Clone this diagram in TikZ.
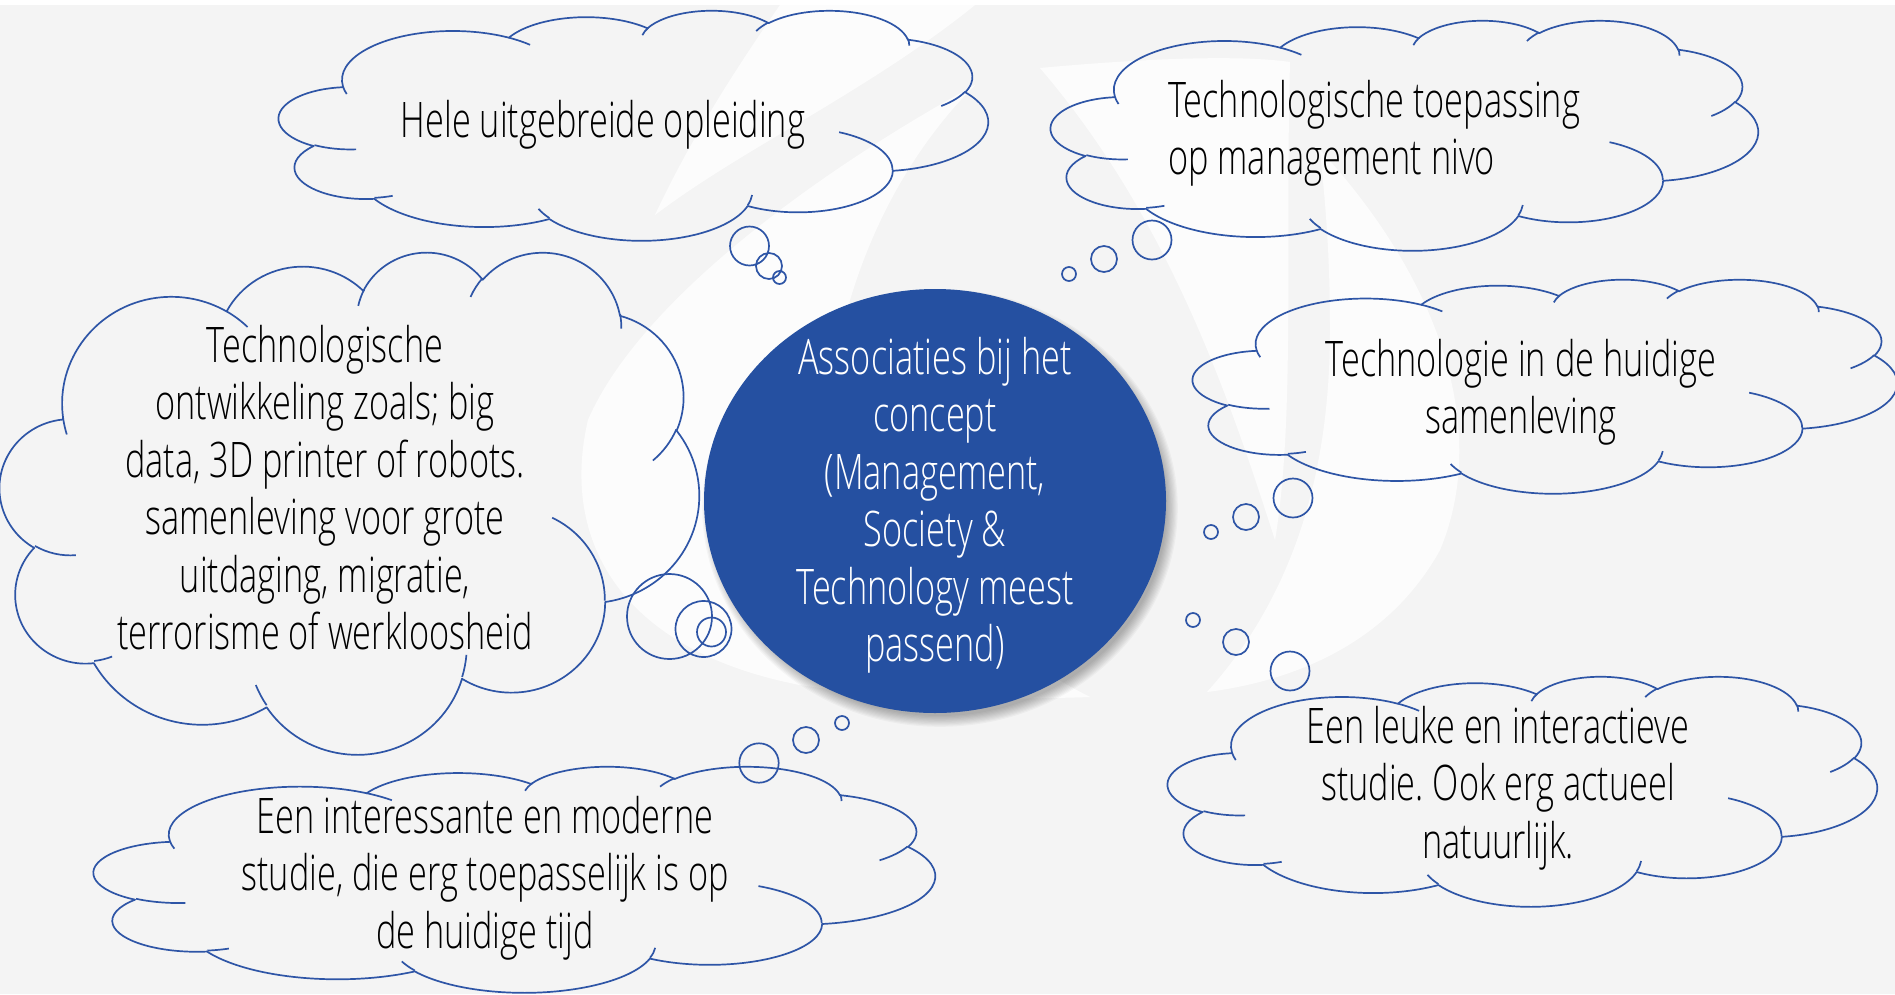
\documentclass[tikz,border=0pt]{standalone}
\usepackage{fontspec}
\setmainfont{Open Sans}[FakeStretch=0.7, UprightFont=* Light]
\frenchspacing
\usetikzlibrary{shapes.geometric}
\definecolor{bgcol}{HTML}{F4F4F4}
\definecolor{cloudblue}{HTML}{2E55A6}
\definecolor{ellblue}{HTML}{2550A1}
% OOXML visual angle -> TikZ parametric angle (y axis flipped)
\newcommand\visang[3]{(-((#3)+Mod(atan2((#1)*sin(#3),(#2)*cos(#3))-(#3)+180,360)-180))}
\newcommand\ooarc[4]{arc[x radius=#1, y radius=#2, start angle={\visang{#1}{#2}{#3}}, end angle={\visang{#1}{#2}{#4}}]}
\newcommand\cloudfont{\fontsize{49}{57.5}\selectfont}
\newcommand\tcen[1]{\begin{tabular}[t]{@{}c@{}}#1\end{tabular}}
\newcommand\tlft[1]{\begin{tabular}[t]{@{}l@{}}#1\end{tabular}}
% #1 name, #2 x0, #3 y0 (down), #4 width, #5 height ; path space 432 x 432
\newcommand\drawcloud[5]{%
  \begin{scope}[shift={(#2,-#3)},xscale=#4/432,yscale=#5/432]
    \draw[cloudline] (39.00,-143.70)
      \ooarc{67.53}{91.90}{-190.4875}{-66.7070}
      \ooarc{53.33}{72.67}{-144.1024}{-54.1572}
      \ooarc{43.65}{59.45}{-145.8079}{-46.0849}
      \ooarc{48.57}{65.95}{-130.9861}{-13.7444}
      \ooarc{53.33}{72.73}{-78.7089}{30.3180}
      \ooarc{67.75}{92.20}{-46.2673}{84.0017}
      \ooarc{57.85}{78.67}{0.6250}{114.6583}
      \ooarc{67.52}{92.15}{22.4516}{137.6242}
      \ooarc{77.20}{105.43}{66.2426}{141.9536}
      \ooarc{43.60}{59.18}{-274.9421}{-128.2065}
      \ooarc{43.45}{59.45}{-246.8285}{-94.3096}
      -- cycle;
    \draw[cloudline]
      (46.93,-261.77) \ooarc{43.45}{59.45}{86.742}{113.1715}
      (69.28,-348.99) \ooarc{43.60}{59.18}{73.6105}{85.058}
      (164.78,-390.90) \ooarc{67.52}{92.15}{137.6242}{151.7053}
      (288.27,-347.51) \ooarc{67.52}{92.15}{6.4533}{22.4517}
      (341.29,-229.54) \ooarc{57.85}{78.67}{-70.2924}{0.625}
      (417.98,-153.54) \ooarc{53.33}{72.73}{30.318}{58.0695}
      (383.24,-54.26) \ooarc{48.57}{65.95}{-13.7443}{1.1146}
      (290.78,-39.52) \ooarc{48.57}{65.95}{-149.1815}{-130.9861}
      (221.41,-47.20) \ooarc{43.65}{59.45}{-163.4943}{-145.8079}
      (140.00,-51.92) \ooarc{67.53}{91.90}{-66.707}{-54.3876}
      (41.27,-157.89) \ooarc{67.53}{91.90}{157.6544}{169.5083};
    \coordinate (#1) at (200.66,-206.06);
  \end{scope}}
\begin{document}
\begin{tikzpicture}[x=1pt,y=1pt,
  cloudline/.style={draw=cloudblue, line width=1.7pt, line join=round},
  bubble/.style={draw=cloudblue, line width=1.7pt},
  txt/.style={font=\cloudfont, inner sep=0pt, text=black},
  ctxt/.style={font=\cloudfont, inner sep=0pt, text=white},
  wmark/.style={fill=white, opacity=0.8}]
\useasboundingbox (0,0) rectangle (1895,-994);
\fill[white] (0,0) rectangle (1895,-994);
\fill[bgcol] (0,-5) rectangle (1895,-994);
% watermark
\fill[wmark] (780,-5) -- (975,-5) .. controls (870,-90) and (740,-150) .. (655,-215)
  .. controls (690,-140) and (735,-70) .. cycle;
\fill[wmark] (975,-85) .. controls (820,-170) and (640,-300) .. (588,-420)
  .. controls (560,-540) and (620,-650) .. (800,-685)
  .. controls (900,-700) and (1000,-700) .. (1090,-697)
  .. controls (900,-600) and (800,-450) .. (850,-300)
  .. controls (880,-200) and (930,-130) .. cycle;
\fill[wmark] (1040,-68) .. controls (1150,-58) and (1240,-55) .. (1290,-62)
  .. controls (1285,-250) and (1295,-420) .. (1275,-540)
  .. controls (1230,-400) and (1170,-220) .. cycle;
\fill[wmark] (1320,-150) .. controls (1440,-280) and (1490,-430) .. (1440,-550)
  .. controls (1390,-640) and (1300,-680) .. (1207,-692)
  .. controls (1290,-600) and (1330,-480) .. (1330,-330)
  .. controls (1330,-250) and (1325,-200) .. cycle;
% clouds
\drawcloud{c1}{279}{10}{709}{230}
\drawcloud{c2}{1051}{20}{707}{230}
\drawcloud{c3}{1193}{279}{704}{214}
\drawcloud{c4}{0}{251}{699}{502}
\drawcloud{c5}{94}{766}{841}{226}
\drawcloud{c6}{1168}{676}{709}{230}
% thought bubbles
\draw[bubble] (749.5,-246) circle[radius=19.5] (769,-266) circle[radius=13] (779.5,-277.5) circle[radius=6.5];
\draw[bubble] (1152,-240) circle[radius=19.5] (1104,-259) circle[radius=13] (1069,-274) circle[radius=7];
\draw[bubble] (1293,-498) circle[radius=19.5] (1246,-517) circle[radius=13] (1211,-532) circle[radius=7];
\draw[bubble] (1290,-671) circle[radius=19.5] (1236,-642) circle[radius=13] (1193,-620) circle[radius=7];
\draw[bubble] (759,-763) circle[radius=19.7] (806,-740) circle[radius=13] (842,-723) circle[radius=7];
\draw[bubble] (669.5,-616.5) circle[radius=42.5] (703.5,-629) circle[radius=28] (711.5,-632) circle[radius=14.5];
% central ellipse with shadow
\foreach \k in {0,...,9}
  \fill[black, opacity=0.03] (940,-508) ellipse[x radius={227+1.2*\k}, y radius={208+1.2*\k}];
\node[ellipse, fill=ellblue, minimum width=462pt, minimum height=424pt, inner sep=0pt] (core) at (935,-501) {};
% texts
\node[ctxt, anchor=base] (tcore) at (935,-374) {\tcen{Associaties bij het\\concept\\(Management,\\Society \&\\Technology meest\\passend)}};
\node[txt, anchor=base] (t1) at (603,-137) {\tcen{Hele uitgebreide opleiding}};
\node[txt, anchor=base west] (t2) at (1168,-117) {\tlft{Technologische toepassing\\op management nivo}};
\node[txt, anchor=base] (t3) at (1521,-376) {\tcen{Technologie in de huidige\\samenleving}};
\node[txt, anchor=base] (t4) at (325,-362) {\tcen{Technologische\\ontwikkeling zoals; big\\data, 3D printer of robots.\\samenleving voor grote\\uitdaging, migratie,\\terrorisme of werkloosheid}};
\node[txt, anchor=base] (t5) at (485,-833) {\tcen{Een interessante en moderne\\studie, die erg toepasselijk is op\\de huidige tijd}};
\node[txt, anchor=base] (t6) at (1498,-743) {\tcen{Een leuke en interactieve\\studie. Ook erg actueel\\natuurlijk.}};
\end{tikzpicture}
\end{document}
